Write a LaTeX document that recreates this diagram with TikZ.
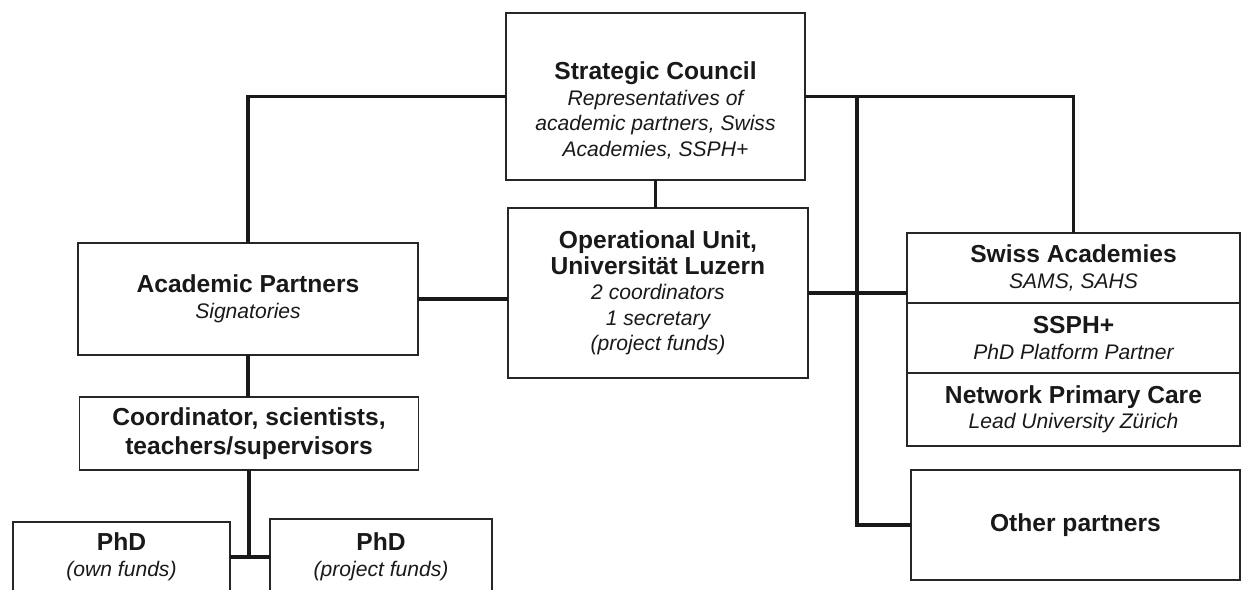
\documentclass[tikz,border=0pt]{standalone}
\usepackage{fontspec}
\setmainfont{Liberation Sans}
\usepackage{tikz}
\usetikzlibrary{positioning, calc}
\newcommand{\boxhead}{\fontsize{14}{17.5}\selectfont\bfseries\upshape}
\newcommand{\boxnote}{\fontsize{12}{14.5}\selectfont\mdseries\itshape}
\tikzset{orgbox/.style={draw=black!85, line width=0.7pt, align=center, inner sep=2pt, outer sep=0pt, text=black!90, font=\boxnote}}
\tikzset{link/.style={draw=black!90, line width=2pt}}

\begin{document}
\begin{tikzpicture}[x=0.02cm, y=-0.02cm]
			\path[use as bounding box, clip] (0,0) rectangle (1242,589);
			%
			\node[orgbox, minimum width=5.98cm, minimum height=3.34cm] (council) at (655.5,96.5)
				{\rule{0pt}{26pt}\boxhead Strategic Council\\ Representatives of\\ academic partners, Swiss\\ Academies, SSPH+};
			\node[orgbox, minimum width=6.0cm, minimum height=3.4cm] (unit) at (658,293)
				{\boxhead Operational Unit,\\ \boxhead Universität Luzern\\ 2 coordinators\\ 1 secretary\\ (project funds)};
			\node[orgbox, minimum width=6.8cm, minimum height=2.24cm] (academic) at (248,299)
				{\boxhead Academic Partners\\ Signatories};
			\node[orgbox, minimum width=6.78cm, minimum height=1.46cm] (coord) at (249,433.5)
				{\boxhead Coordinator, scientists,\\[2pt] \boxhead teachers/supervisors};
			\node[orgbox, minimum width=4.34cm, minimum height=1.4cm] (phdown) at (121.5,557)
				{\boxhead PhD\\ (own funds)};
			\node[orgbox, minimum width=4.44cm, minimum height=1.52cm] (phdproj) at (381,557)
				{\boxhead PhD\\ (project funds)};
			% right hand stack of partners
			\node[orgbox, minimum width=6.66cm, minimum height=1.4cm] (swiss) at (1073.5,268)
				{\boxhead Swiss Academies\\ SAMS, SAHS};
			\node[orgbox, minimum width=6.66cm, minimum height=1.4cm, below=0pt of swiss] (ssph)
				{\boxhead SSPH+\\ PhD Platform Partner};
			\node[orgbox, minimum width=6.66cm, minimum height=1.46cm, below=0pt of ssph] (npc)
				{\boxhead Network Primary Care\\ Lead University Zürich};
			\node[orgbox, minimum width=6.58cm, minimum height=2.2cm] (other) at (1075.5,525)
				{\boxhead Other partners};
			%
			\coordinate (bus) at (857,96.5);
			\coordinate (fork) at (coord.south |- phdown);
			%
			\draw[link] (council.west) -| (academic.north);
			\draw[link] (council.east) -| (swiss.north);
			\draw[link] (council.south) -- (council.south |- unit.north);
			\draw[link] (academic.east) -- (academic.east -| unit.west);
			\draw[link] (unit.east) -- (unit.east -| swiss.west);
			\draw[link] (bus) |- (other.west);
			\draw[link] (academic.south) -- (academic.south |- coord.north);
			\draw[link] (coord.south) -- (fork);
			\draw[link] (phdown) -- (phdproj);
		\end{tikzpicture}
\end{document}
